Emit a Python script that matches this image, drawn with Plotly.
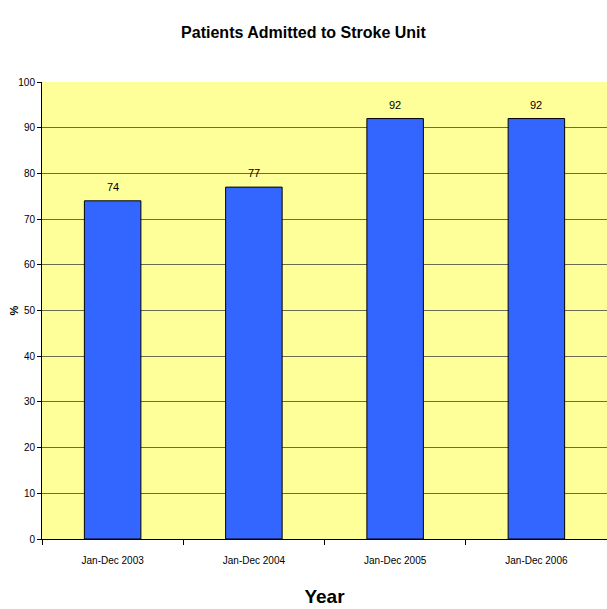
import plotly.graph_objects as go

categories = ["Jan-Dec 2003", "Jan-Dec 2004", "Jan-Dec 2005", "Jan-Dec 2006"]
values = [74, 77, 92, 92]
y_ticks = [0, 10, 20, 30, 40, 50, 60, 70, 80, 90, 100]

font_family = "Liberation Sans, Arial, sans-serif"

fig = go.Figure(
    go.Bar(
        x=categories,
        y=values,
        width=0.4,
        marker=dict(color="#3366FF", line=dict(color="black", width=1)),
        cliponaxis=False,
    )
)

for c, v in zip(categories, values):
    fig.add_annotation(
        x=c, y=v, text=str(v), showarrow=False, yshift=14,
        font=dict(family=font_family, size=11, color="black"),
    )

# y-axis title placed as annotation to sit close to tick labels
fig.add_annotation(
    xref="paper", yref="paper", x=-29 / 565, y=0.5,
    xanchor="center", yanchor="middle", textangle=-90,
    text="<b>%</b>", showarrow=False,
    font=dict(family=font_family, size=11, color="black"),
)

fig.update_layout(
    width=607,
    height=609,
    margin=dict(l=42, r=0, t=82, b=70),
    paper_bgcolor="white",
    plot_bgcolor="#FFFF99",
    showlegend=False,
    title=dict(
        text="<b>Patients Admitted to Stroke Unit</b>",
        x=0.5,
        xanchor="center",
        y=1 - 32 / 609,
        yanchor="middle",
        font=dict(family=font_family, size=16, color="black"),
    ),
    font=dict(family=font_family, color="black"),
)

fig.update_xaxes(
    type="category",
    tickson="boundaries",
    ticks="outside",
    ticklen=5,
    tickcolor="black",
    showline=True,
    linecolor="black",
    linewidth=1,
    showgrid=False,
    ticklabelstandoff=12,
    tickfont=dict(family=font_family, size=10, color="black"),
    title=dict(text="<b>Year</b>", font=dict(family=font_family, size=19, color="black"), standoff=24),
)

fig.update_yaxes(
    range=[0, 100],
    tickvals=y_ticks,
    ticks="outside",
    ticklen=4,
    tickcolor="black",
    showline=True,
    linecolor="black",
    linewidth=1,
    showgrid=True,
    gridcolor="#6b6b50",
    gridwidth=1,
    zeroline=False,
    tickfont=dict(family=font_family, size=10, color="black"),
)

fig.write_html("out.html")
